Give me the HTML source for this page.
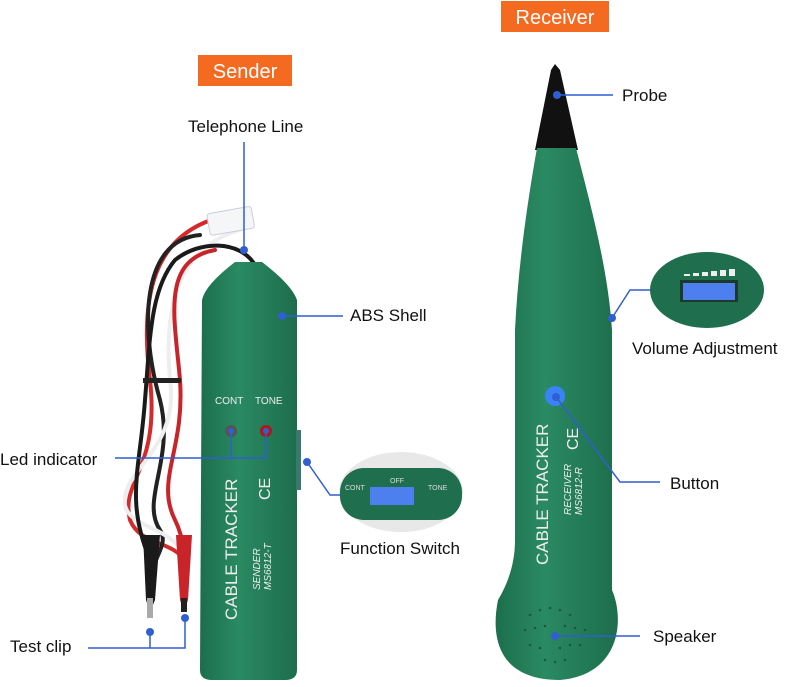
<!DOCTYPE html>
<html><head><meta charset="utf-8"><style>
html,body{margin:0;padding:0;background:#fff;}
svg{display:block;font-family:"Liberation Sans",sans-serif;}
</style></head><body>
<svg width="800" height="687" viewBox="0 0 800 687" xmlns="http://www.w3.org/2000/svg">
<defs>
<linearGradient id="g1" x1="0" x2="1"><stop offset="0" stop-color="#1c6e4d"/><stop offset="0.4" stop-color="#2a8a62"/><stop offset="1" stop-color="#1d6d4c"/></linearGradient>
</defs>
<rect x="198" y="55" width="94" height="31" fill="#f36a20"/>
<text x="245" y="78" font-size="20" fill="#fff" text-anchor="middle">Sender</text>
<rect x="501" y="1" width="108" height="31" fill="#f36a20"/>
<text x="555" y="24" font-size="20" fill="#fff" text-anchor="middle">Receiver</text>

<g fill="none" stroke-width="4" stroke-linecap="round">
<path d="M230 215 C150 230 140 300 150 380 C160 470 120 480 130 520 C140 545 170 540 185 560" stroke="#d42a2a"/>
<path d="M200 235 C140 240 140 330 160 400 C175 460 140 500 160 530 C170 545 150 560 150 585" stroke="#222"/>
<path d="M240 230 C170 250 165 320 170 380 C180 450 120 470 125 505 C130 530 175 525 185 560" stroke="#eee"/>
<path d="M215 250 C160 260 175 320 180 380 C185 450 155 480 175 520 C185 540 185 560 185 585" stroke="#c8242a"/>
<path d="M255 265 C240 240 200 240 175 260 C150 290 150 340 145 400 C140 470 125 500 150 560" stroke="#1a1a1a"/>
</g>
<rect x="143" y="378" width="38" height="5" fill="#222"/>
<path d="M143 535 L160 535 L155 600 L150 612 L146 600 Z" fill="#1a1a1a"/>
<path d="M176 535 L192 535 L188 600 L184 612 L180 600 Z" fill="#c8242a"/>
<rect x="147" y="598" width="6" height="20" fill="#aaa"/><rect x="181" y="598" width="6" height="14" fill="#222"/>
<rect x="208" y="210" width="45" height="22" rx="3" fill="#f4f6f8" stroke="#ccd" transform="rotate(-10 230 220)"/>

<path d="M202 300 Q205 285 235 262 L262 262 Q292 285 297 300 L297 670 Q297 680 285 680 L212 680 Q200 680 200 670 Z" fill="url(#g1)"/>
<rect x="296" y="430" width="5" height="60" fill="#3a7a6c"/>
<text x="215" y="404" font-size="10" fill="#eee">CONT</text><text x="255" y="404" font-size="10" fill="#eee">TONE</text>
<circle cx="231" cy="431" r="6" fill="#555"/><circle cx="266" cy="431" r="6" fill="#b01818"/>
<text transform="translate(237 620) rotate(-90)" font-size="17" fill="#eee">CABLE TRACKER</text>
<text transform="translate(260 590) rotate(-90)" font-size="10" fill="#eee" font-style="italic">SENDER</text>
<text transform="translate(271 590) rotate(-90)" font-size="10" fill="#eee" font-style="italic">MS6812-T</text>
<text transform="translate(270 500) rotate(-90)" font-size="16" fill="#eee">CE</text>

<path d="M555 64 L560 70 L578 150 L535 150 L551 70 Z" fill="#111"/>
<path d="M537 148 L576 148 C592 210 608 270 612 330 L612 590 C625 620 620 675 560 680 C500 680 490 640 498 600 C510 580 515 560 515 540 L515 330 C518 270 526 210 537 148 Z" fill="url(#g1)"/>
<circle cx="555" cy="396" r="10" fill="#3b82f6"/>
<text transform="translate(548 565) rotate(-90)" font-size="17" fill="#eee">CABLE TRACKER</text>
<text transform="translate(571 515) rotate(-90)" font-size="10" fill="#eee" font-style="italic">RECEIVER</text>
<text transform="translate(582 515) rotate(-90)" font-size="10" fill="#eee" font-style="italic">MS6812-R</text>
<text transform="translate(578 450) rotate(-90)" font-size="16" fill="#eee">CE</text>
<g fill="#1a5a3e">
<circle cx="530" cy="615" r="1.3"/><circle cx="540" cy="610" r="1.3"/><circle cx="550" cy="608" r="1.3"/><circle cx="560" cy="610" r="1.3"/><circle cx="570" cy="615" r="1.3"/>
<circle cx="525" cy="630" r="1.3"/><circle cx="535" cy="628" r="1.3"/><circle cx="545" cy="626" r="1.3"/><circle cx="565" cy="626" r="1.3"/><circle cx="575" cy="628" r="1.3"/><circle cx="585" cy="630" r="1.3"/>
<circle cx="530" cy="645" r="1.3"/><circle cx="540" cy="648" r="1.3"/><circle cx="560" cy="648" r="1.3"/><circle cx="570" cy="645" r="1.3"/><circle cx="580" cy="645" r="1.3"/>
<circle cx="545" cy="660" r="1.3"/><circle cx="555" cy="662" r="1.3"/><circle cx="565" cy="660" r="1.3"/>
</g>

<ellipse cx="401" cy="492" rx="62" ry="40" fill="#e8e8e8"/>
<rect x="340" y="468" width="122" height="52" rx="24" fill="#1f6e4e"/>
<text x="345" y="490" font-size="7" fill="#ddd">CONT</text><text x="390" y="483" font-size="7" fill="#ddd">OFF</text><text x="428" y="490" font-size="7" fill="#ddd">TONE</text>
<rect x="370" y="487" width="44" height="18" fill="#4d7fef"/>
<ellipse cx="707" cy="290" rx="57" ry="38" fill="#1f6e4e"/>
<rect x="680" y="280" width="58" height="22" fill="#1b3a2a"/><rect x="683" y="283" width="52" height="17" fill="#4d7fef"/>
<g fill="#eee"><rect x="684" y="274" width="6" height="2"/><rect x="693" y="273" width="6" height="3"/><rect x="702" y="272" width="6" height="4"/><rect x="711" y="271" width="6" height="5"/><rect x="720" y="270" width="6" height="6"/><rect x="729" y="269" width="6" height="7"/></g>

<g stroke="#2f5fd0" stroke-width="1.5" fill="none">
<path d="M244 142 L244 250"/>
<path d="M282 316 L343 316"/>
<path d="M115 458 L266 458 L266 431 M231 431 L231 458"/>
<path d="M307 462 L330 495 L340 495"/>
<path d="M150 632 L150 648 L185 648 L185 618 M88 648 L150 648"/>
<path d="M557 95 L613 95"/>
<path d="M612 318 L630 290 L650 290"/>
<path d="M556 397 L620 482 L660 482"/>
<path d="M555 636 L640 636"/>
</g>
<g fill="#2f5fd0">
<circle cx="244" cy="250" r="4"/><circle cx="282" cy="316" r="4"/><circle cx="231" cy="431" r="3"/><circle cx="266" cy="431" r="3"/>
<circle cx="307" cy="462" r="4"/><circle cx="150" cy="632" r="4"/><circle cx="185" cy="618" r="4"/>
<circle cx="557" cy="95" r="4"/><circle cx="612" cy="318" r="4"/><circle cx="556" cy="397" r="4"/><circle cx="555" cy="636" r="4"/>
</g>
<g font-size="17" fill="#111">
<text x="188" y="132">Telephone Line</text>
<text x="350" y="321">ABS Shell</text>
<text x="0" y="465">Led indicator</text>
<text x="340" y="554">Function Switch</text>
<text x="10" y="652">Test clip</text>
<text x="622" y="101">Probe</text>
<text x="632" y="354">Volume Adjustment</text>
<text x="670" y="489">Button</text>
<text x="653" y="642">Speaker</text>
</g>
</svg>
</body></html>
